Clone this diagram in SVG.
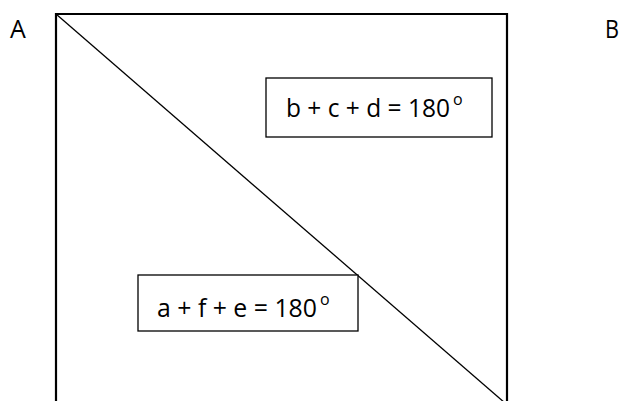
<svg xmlns="http://www.w3.org/2000/svg" width="621" height="401" viewBox="0 0 621 401">
<style>
.t{font-family:"Open Sans","Liberation Sans",sans-serif;font-size:25px;fill:#000}
.box{fill:#fff;stroke:#000;stroke-width:1.3}
.sup{font-size:16px}
</style>
<rect width="621" height="401" fill="#fff"/>
<g id="square">
<path d="M56 405 V14 H507 V405" fill="none" stroke="#000" stroke-width="2.2"/>
</g>
<g id="connectors">
<line x1="56" y1="14" x2="505" y2="403" stroke="#000" stroke-width="1.3"/>
</g>
<g id="labelA"><text class="t" x="10" y="38">A</text></g>
<g id="labelB"><text class="t" x="605" y="38" textLength="14" lengthAdjust="spacingAndGlyphs">B</text></g>
<g id="box1">
<rect class="box" x="266" y="78" width="226" height="59"/>
<text class="t" x="286" y="117"><tspan textLength="164" lengthAdjust="spacingAndGlyphs">b + c + d = 180</tspan><tspan class="sup" dx="3" dy="-12">o</tspan></text>
</g>
<g id="box2">
<rect class="box" x="138" y="275" width="220" height="56"/>
<text class="t" x="157" y="317"><tspan textLength="160" lengthAdjust="spacingAndGlyphs">a + f + e = 180</tspan><tspan class="sup" dx="3" dy="-12">o</tspan></text>
</g>
</svg>
